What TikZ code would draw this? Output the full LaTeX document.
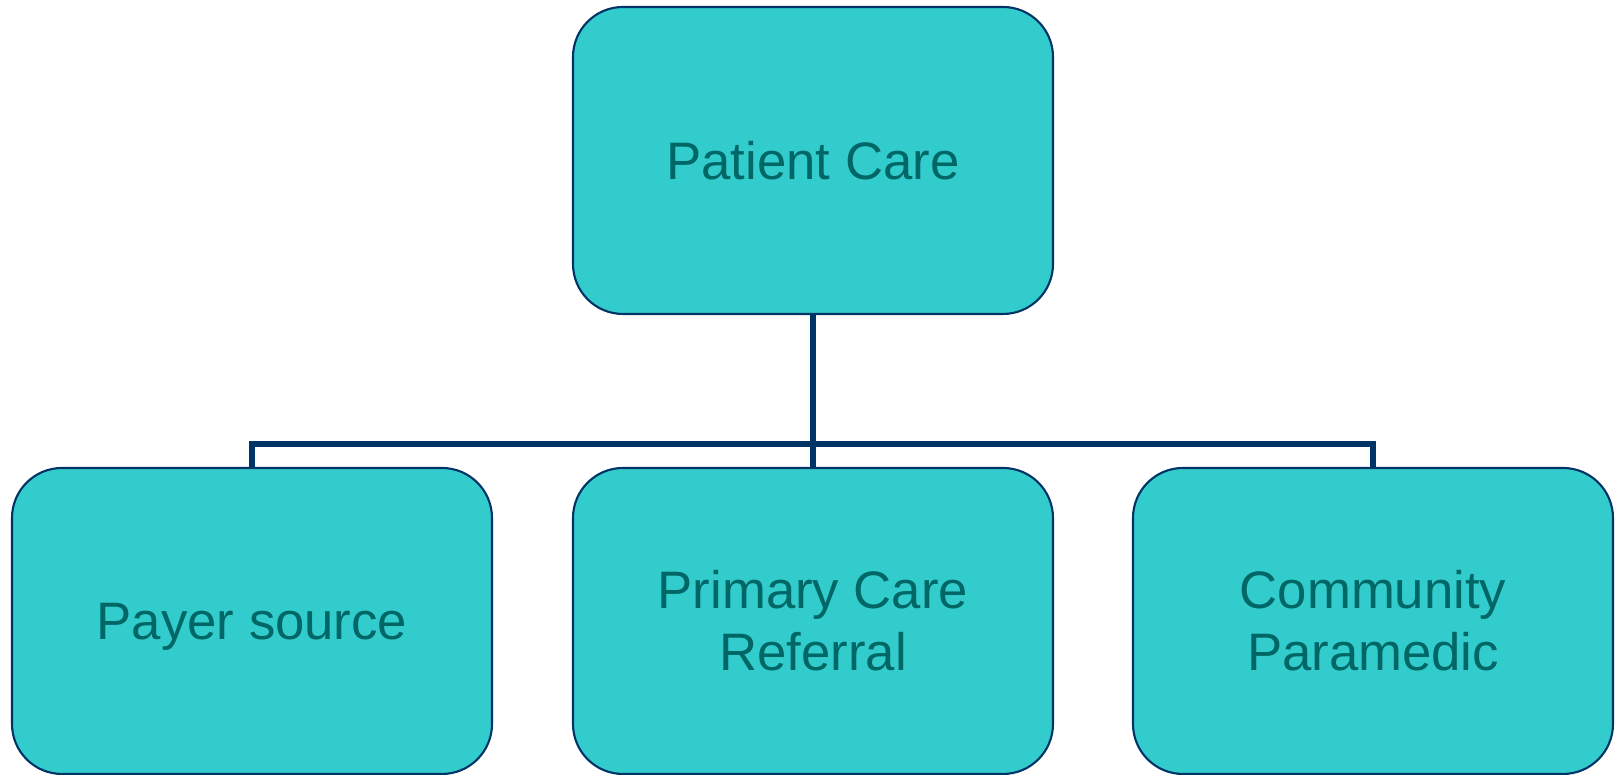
\documentclass[tikz,border=0pt]{standalone}
\usepackage{fontspec}
\setmainfont{Liberation Sans}
\usepackage{tikz}
\usetikzlibrary{positioning}

\definecolor{boxfill}{RGB}{51,204,204}
\definecolor{boxline}{RGB}{0,51,102}
\definecolor{boxtext}{RGB}{0,102,102}

\begin{document}
\begin{tikzpicture}
		\tikzstyle{Unit}	= [rectangle, rounded corners=0.5cm, draw=boxline, line width=0.6pt, fill=boxfill, text=boxtext, minimum width=4.8cm, minimum height=3.06cm, align=center, font=\fontsize{15}{17.6}\selectfont]
		\tikzstyle{Link}	= [boxline, line width=1.7pt]

		\useasboundingbox (0, 0) rectangle (16.18, 7.75);

		\node (care) at (8.13, 6.145) [Unit, minimum height=3.07cm] {Patient Care};
		\node (payer) at (2.52, 1.54) [Unit, text depth=0pt] {Payer source};
		\node (referral) at (8.13, 1.54) [Unit] {Primary Care\\Referral};
		\node (medic) at (13.73, 1.54) [Unit] {Community\\Paramedic};

		\coordinate (bus) at (8.13, 3.31);

		\draw [Link] (care.south) -- (bus);
		\draw [Link] (payer.north) |- (bus) -| (medic.north);
		\draw [Link] (bus) -- (referral.north);
	\end{tikzpicture}
\end{document}
